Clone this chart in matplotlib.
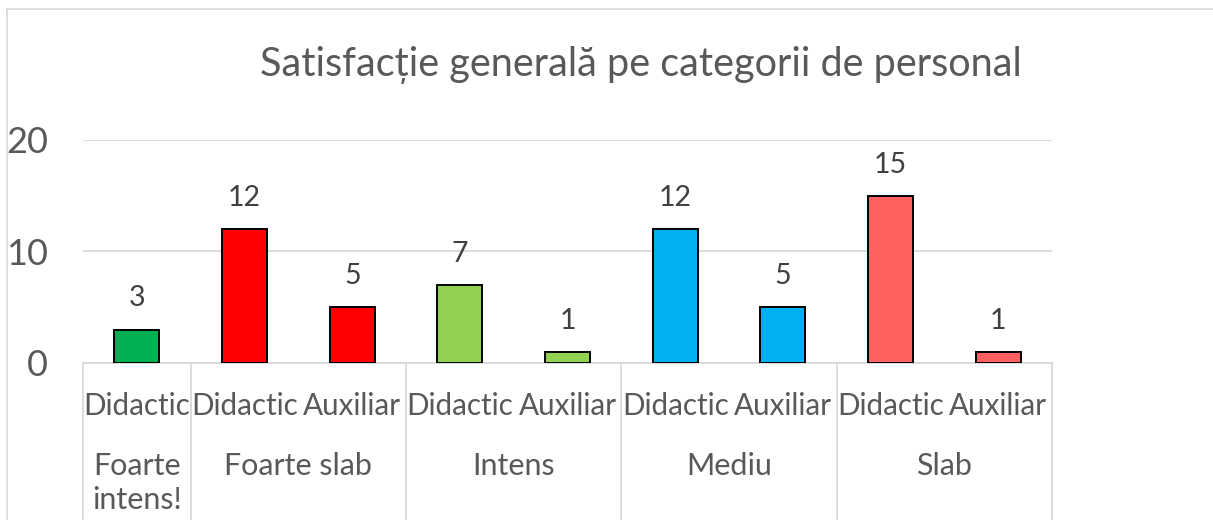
import matplotlib.pyplot as plt
from matplotlib.lines import Line2D

# data
groups = ["Foarte intens!", "Foarte slab", "Intens", "Mediu", "Slab"]
group_members = [["Didactic"], ["Didactic", "Auxiliar"], ["Didactic", "Auxiliar"],
                 ["Didactic", "Auxiliar"], ["Didactic", "Auxiliar"]]
values = [3, 12, 5, 7, 1, 12, 5, 15, 1]
bar_colors = ["#00B050", "#FF0000", "#FF0000", "#92D050", "#92D050",
              "#00B0F0", "#00B0F0", "#FF6161", "#FF6161"]
yticks = [0, 10, 20]
title = "Satisfacție generală pe categorii de personal"

plt.rcParams['font.family'] = ['Lato', 'DejaVu Sans']
W, H = 1213, 520
fig = plt.figure(figsize=(W / 100, H / 100), dpi=100)

# chart frame (only left and top edge visible)
fig.add_artist(Line2D([7 / W, 7 / W], [0, 1 - 9 / H], color="#D9D9D9", lw=1.2))
fig.add_artist(Line2D([7 / W, 1], [1 - 9 / H, 1 - 9 / H], color="#D9D9D9", lw=1.2))

left, right, bottom, top = 83, 1052, 363, 140
ax = fig.add_axes([left / W, 1 - bottom / H, (right - left) / W, (bottom - top) / H])

sub_labels = [s for m in group_members for s in m]
x = list(range(len(values)))
ax.bar(x, values, width=0.42, color=bar_colors, edgecolor="black", linewidth=1.4, zorder=3)
for xi, v in zip(x, values):
    ax.annotate(str(v), (xi, v), xytext=(0, 13), textcoords="offset points",
                ha="center", va="bottom", fontsize=20.5, color="#404040")

ax.set_xlim(-0.5, len(values) - 0.5)
ax.set_ylim(0, 20)
ax.set_yticks(yticks)
ax.set_yticklabels([str(t) for t in yticks], fontsize=26, color="#595959")
ax.tick_params(axis="y", length=0, pad=25)
ax.grid(axis="y", color="#D9D9D9", lw=1.3, zorder=0)
for s in ["top", "right", "left"]:
    ax.spines[s].set_visible(False)
ax.spines["bottom"].set_color("#D9D9D9")
ax.spines["bottom"].set_linewidth(1.3)

ax.set_xticks(x)
ax.set_xticklabels(sub_labels, fontsize=21.3, color="#595959")
ax.tick_params(axis="x", length=0, pad=21)

# group labels and separators below the axis
trans = ax.get_xaxis_transform()
ph = bottom - top
y_bottom = -(H - bottom) / ph
y_group = -(452 - bottom) / ph
pos = -0.5
for g, m in zip(groups, group_members):
    label = g.replace(" ", "\n") if len(m) == 1 else g
    ax.text(pos + len(m) / 2, y_group, label, transform=trans, ha="center", va="top",
            fontsize=22, color="#595959", linespacing=1.25)
    ax.add_artist(Line2D([pos, pos], [0, y_bottom], transform=trans, color="#D9D9D9",
                         lw=1.3, clip_on=False))
    pos += len(m)
ax.add_artist(Line2D([pos, pos], [0, y_bottom], transform=trans, color="#D9D9D9",
                     lw=1.3, clip_on=False))

fig.text(641 / W, 1 - 65 / H, title, ha="center", va="center", fontsize=28.5, color="#595959")

fig.savefig("out.png", dpi=100)
